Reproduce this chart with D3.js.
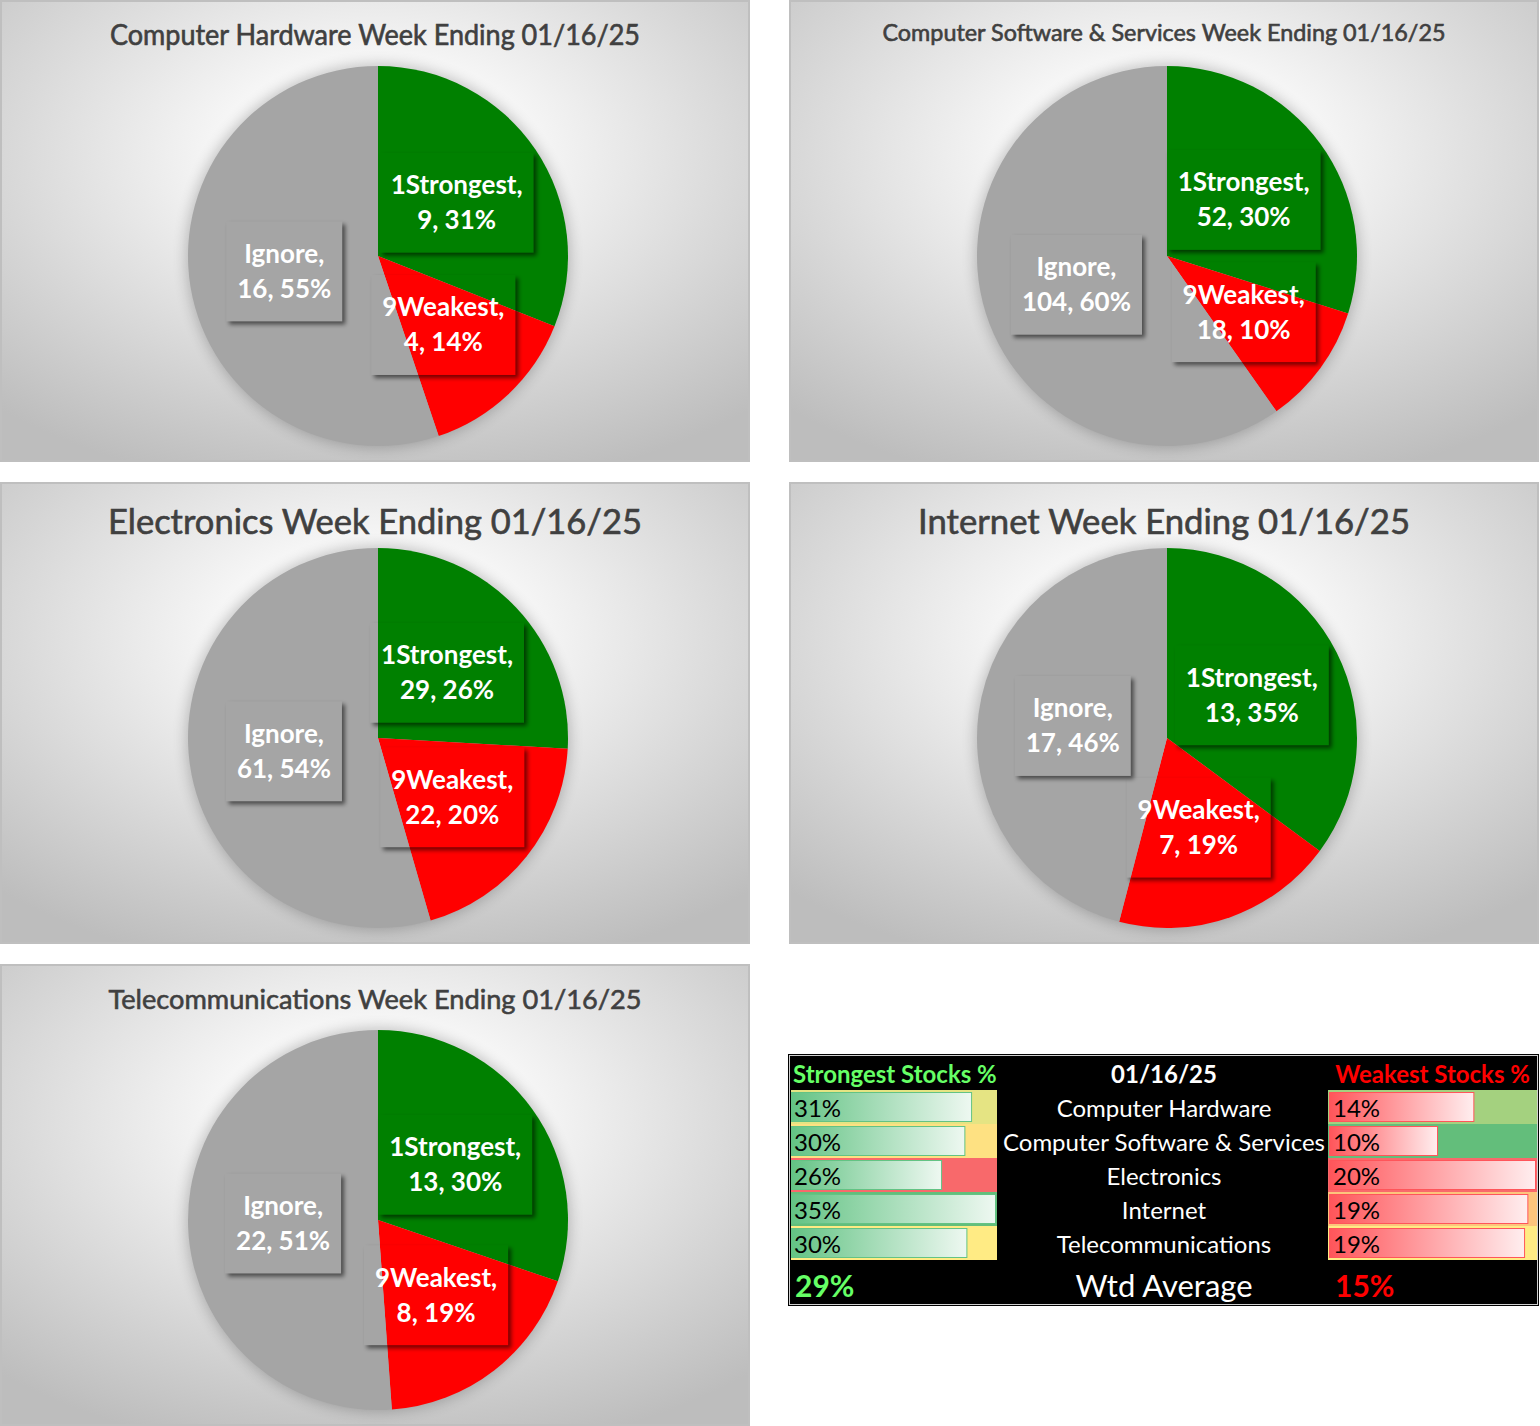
<!DOCTYPE html>
<html>
<head>
<meta charset="utf-8">
<script src="https://cdn.jsdelivr.net/npm/d3@7"></script>
<style>
  body { margin: 0; background: #fff; }
  svg { display: block; }
  text { font-family: Lato, "Open Sans", sans-serif; }
</style>
</head>
<body>
<div id="chart"></div>
<script>
// data
var sectors = ["Computer Hardware", "Computer Software & Services", "Electronics", "Internet", "Telecommunications"];
var weekEnding = "01/16/25";
var sliceNames = ["1Strongest", "9Weakest", "Ignore"];
var strongest = [9, 52, 29, 13, 13];
var weakest = [4, 18, 22, 7, 8];
var ignore = [16, 104, 61, 17, 22];

var sliceColors = ["#008000", "#ff0000", "#a5a5a5"];

// layout
var svgWidth = 1540;
var svgHeight = 1426;
var panelW = 750, panelH = 462;
var panelX = [0, 789, 0, 789, 0];
var panelY = [0, 0, 482, 482, 964];
var titleSize = [28, 23, 34, 34, 27.5];
var titleWidth = [530, 563, 534, 492, 533];
var titleY = [45, 41, 52, 52, 45];
var radius = 190;
var pieCx = 378, pieCy = 256;
var lineGap = 35;

var svg = d3.select("#chart")
    .append("svg")
    .attr("width", svgWidth)
    .attr("height", svgHeight);

var defs = svg.append("defs");

var bg = defs.append("radialGradient")
    .attr("id", "panelBg")
    .attr("cx", 0.5).attr("cy", 0.33).attr("r", 0.75);
bg.append("stop").attr("offset", "0").attr("stop-color", "#ffffff");
bg.append("stop").attr("offset", "0.25").attr("stop-color", "#f8f8f8");
bg.append("stop").attr("offset", "1").attr("stop-color", "#bdbdbd");

defs.append("filter").attr("id", "pieShadow")
    .attr("x", "-20%").attr("y", "-20%").attr("width", "140%").attr("height", "140%")
  .append("feGaussianBlur").attr("stdDeviation", 7);

defs.append("filter").attr("id", "boxShadow")
    .attr("x", "-30%").attr("y", "-30%").attr("width", "160%").attr("height", "160%")
  .append("feGaussianBlur").attr("stdDeviation", 2);

var pie = d3.pie().sort(null).value(d => d.value);
var arc = d3.arc().innerRadius(0).outerRadius(radius);
var pct = d3.format(".0%");

sectors.forEach(function(name, i) {
    var data = [
        {name: sliceNames[0], value: strongest[i]},
        {name: sliceNames[1], value: weakest[i]},
        {name: sliceNames[2], value: ignore[i]}
    ];

    var panel = svg.append("g")
        .attr("transform", `translate(${panelX[i]}, ${panelY[i]})`);

    panel.append("rect")
        .attr("x", 1).attr("y", 1)
        .attr("width", panelW - 2).attr("height", panelH - 2)
        .attr("fill", "url(#panelBg)")
        .attr("stroke", "#bfbfbf")
        .attr("stroke-width", 2);

    panel.append("text")
        .attr("x", panelW / 2)
        .attr("y", titleY[i])
        .attr("text-anchor", "middle")
        .attr("font-size", titleSize[i])
        .attr("fill", "#404040")
        .attr("stroke", "#404040")
        .attr("stroke-width", 0.6)
        .attr("textLength", titleWidth[i])
        .attr("lengthAdjust", "spacingAndGlyphs")
        .text(name + " Week Ending " + weekEnding);

    var pieGroup = panel.append("g")
        .attr("transform", `translate(${pieCx}, ${pieCy})`);

    pieGroup.append("circle")
        .attr("r", radius + 2)
        .attr("fill", "#000")
        .attr("opacity", 0.22)
        .attr("filter", "url(#pieShadow)");

    var arcs = pie(data);

    pieGroup.selectAll("path.slice")
        .data(arcs)
        .enter()
        .append("path")
        .attr("class", "slice")
        .attr("d", arc)
        .attr("fill", (d, j) => sliceColors[j]);

    arcs.forEach(function(d, j) {
        var c = arc.centroid(d);
        var share = (d.endAngle - d.startAngle) / (2 * Math.PI);
        var lines = [d.data.name + ",", d.data.value + ", " + pct(share)];

        var lab = pieGroup.append("g");
        var txt = lab.append("text")
            .attr("text-anchor", "middle")
            .attr("font-size", 26)
            .attr("font-weight", "bold")
            .attr("fill", "#fff");
        lines.forEach(function(l, k) {
            txt.append("tspan")
                .attr("x", c[0])
                .attr("y", c[1] + (k - 0.5) * lineGap + 9)
                .text(l);
        });

        var w = txt.node().getBBox().width + 22;
        var h = 100;
        var bx = c[0] - w / 2, by = c[1] - h / 2;

        var maskId = "m" + i + "_" + j;
        var mask = defs.append("mask")
            .attr("id", maskId)
            .attr("maskUnits", "userSpaceOnUse")
            .attr("x", -400).attr("y", -400).attr("width", 800).attr("height", 800);
        mask.append("rect")
            .attr("x", -400).attr("y", -400).attr("width", 800).attr("height", 800)
            .attr("fill", "#fff");
        mask.append("rect")
            .attr("x", bx).attr("y", by).attr("width", w).attr("height", h)
            .attr("fill", "#000");

        lab.insert("rect", "text")
            .attr("x", bx + 3).attr("y", by + 3)
            .attr("width", w).attr("height", h)
            .attr("fill", "#000")
            .attr("opacity", 0.55)
            .attr("filter", "url(#boxShadow)")
            .attr("mask", `url(#${maskId})`);
    });
});

// summary table
var tblX = 788, tblY = 1054, tblW = 751, tblH = 252;
var rowTop = 1090, rowH = 34;
var leftX = 791, leftW = 206;
var rightX = 1328, rightW = 209;
var midX = 1164;

var strongPct = sectors.map((s, i) => strongest[i] / (strongest[i] + weakest[i] + ignore[i]));
var weakPct = sectors.map((s, i) => weakest[i] / (strongest[i] + weakest[i] + ignore[i]));
var totalAll = d3.sum(strongest) + d3.sum(weakest) + d3.sum(ignore);
var avgStrong = d3.sum(strongest) / totalAll;
var avgWeak = d3.sum(weakest) / totalAll;

var strongColor = d3.scaleLinear()
    .domain([d3.min(strongPct), d3.median(strongPct), d3.max(strongPct)])
    .range(["#F8696B", "#FFEB84", "#63BE7B"]);
var weakColor = d3.scaleLinear()
    .domain([d3.min(weakPct), d3.median(weakPct), d3.max(weakPct)])
    .range(["#63BE7B", "#FFEB84", "#F8696B"]);

var strongBar = d3.scaleLinear().domain([0, d3.max(strongPct)]).range([0, leftW - 1]);
var weakBar = d3.scaleLinear().domain([0, d3.max(weakPct)]).range([0, rightW - 2]);

var gG = defs.append("linearGradient").attr("id", "gBar");
gG.append("stop").attr("offset", "0").attr("stop-color", "#63C384");
gG.append("stop").attr("offset", "1").attr("stop-color", "#eef8f1");
var rG = defs.append("linearGradient").attr("id", "rBar");
rG.append("stop").attr("offset", "0").attr("stop-color", "#FF555A");
rG.append("stop").attr("offset", "1").attr("stop-color", "#ffeeef");

var table = svg.append("g");

table.append("rect")
    .attr("x", tblX + 0.5).attr("y", tblY + 0.5)
    .attr("width", tblW - 1).attr("height", tblH - 1)
    .attr("fill", "#000")
    .attr("stroke", "#000");
table.append("rect")
    .attr("x", tblX + 1.5).attr("y", tblY + 1.5)
    .attr("width", tblW - 3).attr("height", tblH - 3)
    .attr("fill", "none")
    .attr("stroke", "#d0d0d0")
    .attr("stroke-width", 1);

table.append("text")
    .attr("x", 793).attr("y", 1083)
    .attr("font-size", 24).attr("font-weight", "bold")
    .attr("fill", "#66ff66")
    .text("Strongest Stocks %");
table.append("text")
    .attr("x", midX).attr("y", 1083)
    .attr("text-anchor", "middle")
    .attr("font-size", 24).attr("font-weight", "bold")
    .attr("fill", "#fff")
    .text(weekEnding);
table.append("text")
    .attr("x", 1530).attr("y", 1083)
    .attr("text-anchor", "end")
    .attr("font-size", 24).attr("font-weight", "bold")
    .attr("fill", "#ff0000")
    .text("Weakest Stocks %");

var rows = table.selectAll("g.row")
    .data(sectors)
    .enter()
    .append("g")
    .attr("class", "row")
    .attr("transform", (d, i) => `translate(0, ${rowTop + i * rowH})`);

rows.append("rect")
    .attr("x", leftX).attr("y", 0)
    .attr("width", leftW).attr("height", rowH)
    .attr("fill", (d, i) => strongColor(strongPct[i]));
rows.append("rect")
    .attr("x", leftX + 0.5).attr("y", 2.5)
    .attr("width", (d, i) => strongBar(strongPct[i]) - 1).attr("height", 29)
    .attr("fill", "url(#gBar)")
    .attr("stroke", "#63C384");
rows.append("text")
    .attr("x", 794).attr("y", 27)
    .attr("font-size", 24)
    .attr("fill", "#000")
    .text((d, i) => pct(strongPct[i]));

rows.append("rect")
    .attr("x", rightX).attr("y", 0)
    .attr("width", rightW).attr("height", rowH)
    .attr("fill", (d, i) => weakColor(weakPct[i]));
rows.append("rect")
    .attr("x", rightX + 1.5).attr("y", 2.5)
    .attr("width", (d, i) => weakBar(weakPct[i]) - 1).attr("height", 29)
    .attr("fill", "url(#rBar)")
    .attr("stroke", "#FF555A");
rows.append("text")
    .attr("x", 1333).attr("y", 27)
    .attr("font-size", 24)
    .attr("fill", "#000")
    .text((d, i) => pct(weakPct[i]));

rows.append("text")
    .attr("x", midX).attr("y", 27)
    .attr("text-anchor", "middle")
    .attr("font-size", 24)
    .attr("fill", "#fff")
    .text(d => d);

table.append("text")
    .attr("x", 795).attr("y", 1297)
    .attr("font-size", 30).attr("font-weight", "bold")
    .attr("fill", "#66ff66")
    .text(pct(avgStrong));
table.append("text")
    .attr("x", midX).attr("y", 1297)
    .attr("text-anchor", "middle")
    .attr("font-size", 31)
    .attr("fill", "#fff")
    .text("Wtd Average");
table.append("text")
    .attr("x", 1335).attr("y", 1297)
    .attr("font-size", 30).attr("font-weight", "bold")
    .attr("fill", "#ff0000")
    .text(pct(avgWeak));
</script>
</body>
</html>
